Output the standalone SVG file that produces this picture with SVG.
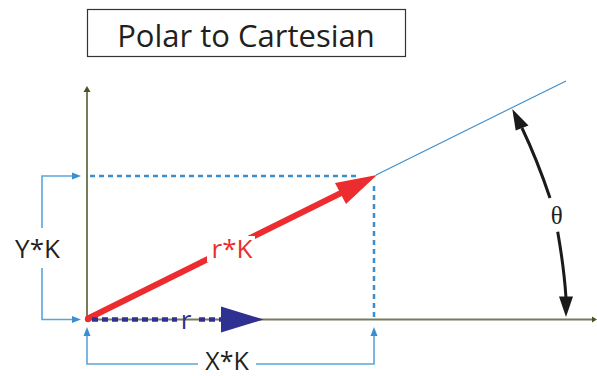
<svg xmlns="http://www.w3.org/2000/svg" width="597" height="376" viewBox="0 0 597 376">
<style>
.lbl{font-family:"Open Sans","Noto Sans",sans-serif;font-size:26px;text-anchor:middle}
.axis{stroke:#787b58;stroke-width:2;fill:none}
.dash{stroke:#3b8ed0;stroke-width:2.5;stroke-dasharray:5 4;fill:none}
.brk{stroke:#5aa5dc;stroke-width:1.6;fill:none}
.navy{stroke:#2e3192;stroke-width:4.5;stroke-dasharray:6 4;fill:none}
.arc{stroke:#1a1a1a;stroke-width:3;fill:none}
</style>
<rect width="597" height="376" fill="#fff"/>
<g id="title">
<rect x="87.5" y="9.5" width="318" height="47" fill="#fff" stroke="#333" stroke-width="1.2"/>
<text x="246" y="47" font-family="'Open Sans','Noto Sans',sans-serif" font-size="31" fill="#231f20" text-anchor="middle">Polar to Cartesian</text>
</g>
<g id="connectors">
<line class="axis" x1="87" y1="320" x2="87" y2="91"/>
<polygon points="87,86 83.5,92 90.5,92" fill="#4b5320"/>
<line class="axis" x1="87" y1="319.5" x2="594" y2="319.5"/>
<polygon points="597,319.5 592,316.5 592,322.5" fill="#4b5320"/>
<line class="dash" x1="90" y1="176" x2="360" y2="176"/>
<line class="dash" x1="374" y1="186" x2="374" y2="318"/>
<line x1="376" y1="175" x2="566" y2="81" stroke="#3a8fd0" stroke-width="1.2"/>
<polyline class="brk" points="42,228 42,176 74,176"/>
<polygon points="81,176 72,172.5 72,179.5" fill="#3b8ed0"/>
<polyline class="brk" points="42,268 42,319.5 74,319.5"/>
<polygon points="81,319.5 72,316 72,323" fill="#3b8ed0"/>
<polyline class="brk" points="198,364 87,364 87,334"/>
<polygon points="87,327 83.5,336 90.5,336" fill="#3b8ed0"/>
<polyline class="brk" points="256,364 374,364 374,334"/>
<polygon points="374,327 370.5,336 377.5,336" fill="#3b8ed0"/>
<line x1="87" y1="319" x2="341" y2="193" stroke="#ec2c2e" stroke-width="6"/>
<circle cx="88" cy="319" r="3.2" fill="#ec2c2e"/>
<polygon points="377,175 335,183 346,204" fill="#ec2c2e"/>
<rect x="207" y="236" width="48" height="26" fill="#fff"/>
<line class="navy" x1="92" y1="319.5" x2="177" y2="319.5"/>
<line class="navy" x1="199" y1="319.5" x2="222" y2="319.5"/>
<polygon points="263.5,319.5 221,306.5 221,332.5" fill="#2e3192"/>
<path class="arc" d="M522,128 Q537.4,160.4 550,198"/>
<polygon points="512.3,109 515.7,130.5 528.5,125.5" fill="#1a1a1a"/>
<path class="arc" d="M557.7,231.7 Q564.2,269 566,298"/>
<polygon points="566,317 559,296.5 573,296.5" fill="#1a1a1a"/>
</g>
<g id="labels">
<text class="lbl" x="37.5" y="258" fill="#231f20">Y*K</text>
<text class="lbl" x="232" y="258" fill="#ec2c2e">r*K</text>
<text class="lbl" x="186" y="329" fill="#2e3192">r</text>
<text class="lbl" x="227" y="370" fill="#231f20" style="font-size:25px">X*K</text>
<text x="556.7" y="224" font-family="'Liberation Serif','DejaVu Serif',serif" font-size="25" fill="#231f20" text-anchor="middle">θ</text>
</g>
</svg>
